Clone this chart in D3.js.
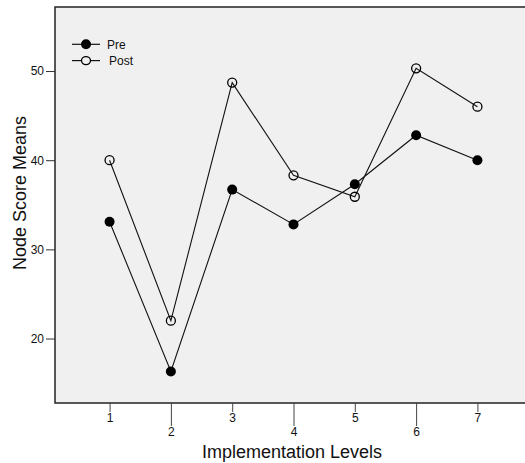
<!DOCTYPE html>
<html lang="en">
<head>
    <meta charset="UTF-8">
    <script src="https://d3js.org/d3.v7.min.js"></script>
    <title>Node Score Means</title>
    <style>
        body { margin: 0; background: #fff; }
        text { font-family: "Liberation Sans", Arial, sans-serif; fill: #111; }
    </style>
</head>
<body>
    <div id="chart"></div>
    <script>
// Data
const levels = [1, 2, 3, 4, 5, 6, 7];
const preValues = [33.1, 16.3, 36.7, 32.8, 37.3, 42.8, 40.0];
const postValues = [40.0, 22.0, 48.7, 38.3, 35.9, 50.3, 46.0];
const yTicks = [20, 30, 40, 50];
const seriesNames = ["Pre", "Post"];

const W = 525, H = 463;
const plot = { left: 55, top: 7, right: 532, bottom: 403 };
const fontFam = "Liberation Sans, Arial, sans-serif";

const svg = d3.select("#chart").append("svg")
    .attr("width", W)
    .attr("height", H);

const x = d3.scaleLinear().domain([0.11, 7.89]).range([plot.left, plot.right]);
const y = d3.scaleLinear().domain([12.77, 57.18]).range([plot.bottom, plot.top]);

// Plot background
svg.append("rect")
    .attr("x", plot.left)
    .attr("y", plot.top)
    .attr("width", plot.right - plot.left)
    .attr("height", plot.bottom - plot.top)
    .attr("fill", "#f0f0f0");

// Frame lines (top, left, bottom)
svg.append("path")
    .attr("d", `M${plot.right},${plot.top}H${plot.left}V${plot.bottom}H${plot.right}`)
    .attr("fill", "none")
    .attr("stroke", "#222")
    .attr("stroke-width", 1.5);

// Y axis ticks
const yAxis = svg.append("g")
    .attr("transform", `translate(${plot.left},0)`)
    .call(d3.axisLeft(y).tickValues(yTicks).tickSize(9).tickPadding(2));
yAxis.attr("font-size", null).attr("font-family", null);
yAxis.select(".domain").remove();
yAxis.selectAll("line").attr("stroke", "#333");
yAxis.selectAll("text").style("font-size", "12px").style("font-family", fontFam).attr("fill", "#111");

// X axis ticks, alternating length
const xAxis = svg.append("g")
    .attr("transform", `translate(0,${plot.bottom})`)
    .call(d3.axisBottom(x).tickValues(levels).tickFormat(d3.format("d")).tickSize(0));
xAxis.attr("font-size", null).attr("font-family", null);
xAxis.select(".domain").remove();
xAxis.selectAll(".tick line")
    .attr("y2", d => d % 2 === 0 ? 23 : 9)
    .attr("stroke", "#444");
xAxis.selectAll(".tick text")
    .attr("y", d => d % 2 === 0 ? 24 : 10)
    .attr("dy", "0.71em")
    .style("font-size", "12px")
    .style("font-family", fontFam)
    .attr("fill", "#111");

// Axis titles
svg.append("text")
    .attr("x", 292)
    .attr("y", 458)
    .attr("text-anchor", "middle")
    .style("font-size", "18px")
    .text("Implementation Levels");

svg.append("text")
    .attr("transform", "translate(26,193) rotate(-90)")
    .attr("text-anchor", "middle")
    .style("font-size", "18px")
    .text("Node Score Means");

// Lines and markers
const line = d3.line().x((d, i) => x(levels[i])).y(d => y(d));
const series = [
    { name: seriesNames[0], values: preValues, filled: true },
    { name: seriesNames[1], values: postValues, filled: false }
];

series.forEach(s => {
    svg.append("path")
        .datum(s.values)
        .attr("d", line)
        .attr("fill", "none")
        .attr("stroke", "#111")
        .attr("stroke-width", 1.1);

    svg.selectAll(null)
        .data(s.values)
        .enter().append("circle")
        .attr("cx", (d, i) => x(levels[i]))
        .attr("cy", d => y(d))
        .attr("r", s.filled ? 5 : 4.5)
        .attr("fill", s.filled ? "#000" : "none")
        .attr("stroke", "#000")
        .attr("stroke-width", s.filled ? 0 : 1.3);
});

// Legend
const legend = svg.append("g");
series.forEach((s, i) => {
    const ly = 44.3 + i * 16.3;
    legend.append("line")
        .attr("x1", 72).attr("x2", 100)
        .attr("y1", ly).attr("y2", ly)
        .attr("stroke", "#111").attr("stroke-width", 1.2);
    legend.append("ellipse")
        .attr("cx", 86).attr("cy", ly)
        .attr("rx", s.filled ? 5 : 4.5).attr("ry", s.filled ? 5 : 4)
        .attr("fill", s.filled ? "#000" : "#f0f0f0")
        .attr("stroke", "#000")
        .attr("stroke-width", s.filled ? 0 : 1.3);
    legend.append("text")
        .attr("x", s.filled ? 107 : 109)
        .attr("y", ly)
        .attr("dy", "0.35em")
        .style("font-size", "12px")
        .text(s.name);
});
    </script>
</body>
</html>
